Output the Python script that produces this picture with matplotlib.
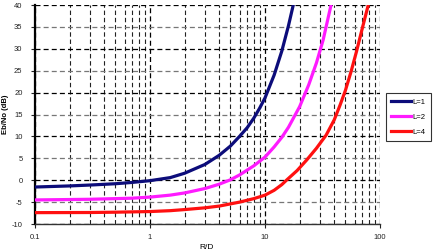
import matplotlib.pyplot as plt
from matplotlib.ticker import MultipleLocator, LogLocator, NullFormatter, FuncFormatter

plt.rcParams['font.family'] = ['Liberation Sans', 'DejaVu Sans']

# values
d_l1 = [0.1, 0.2, 0.3, 0.5, 0.7, 1, 1.5, 2, 3, 4, 5, 6, 7, 8, 9, 10, 12, 14,
        16, 17.6]
eb_l1 = [-1.55, -1.3, -1.1, -0.8, -0.5, -0.1, 0.6, 1.6, 3.6, 5.7, 7.8, 10.0,
         12.0, 14.2, 16.5, 18.8, 24.0, 29.5, 35.3, 40]

d_l2 = [0.1, 0.3, 0.5, 0.7, 1, 1.5, 2, 3, 4, 5, 6, 8, 10, 12, 14, 16, 20, 24,
        28, 32, 37.5]
eb_l2 = [-4.5, -4.35, -4.2, -4.1, -3.85, -3.4, -2.9, -1.9, -0.9, 0.1, 1.2,
         3.3, 5.3, 7.6, 9.8, 12.1, 16.8, 21.8, 26.8, 32.0, 40]

d_l4 = [0.1, 0.3, 0.5, 1, 1.5, 2, 3, 4, 6, 8, 10, 12, 14, 15.5, 19, 23, 28,
        34, 40, 45, 50, 56, 62.6, 70, 79]
eb_l4 = [-7.4, -7.37, -7.3, -7.15, -6.95, -6.7, -6.3, -5.9, -5.0, -4.2, -3.4,
         -2.3, -1.0, 0.1, 2.2, 4.6, 7.3, 10.3, 13.8, 17.2, 20.5, 24.8, 29.5,
         34.6, 40]

labels = ['L=1', 'L=2', 'L=4']
colors = ['#0c0c7a', '#ff1aff', '#ff1010']

fig = plt.figure(figsize=(4.35, 2.52), dpi=100)
ax = fig.add_axes([0.0805, 0.111, 0.7931, 0.869])

ax.plot(d_l1, eb_l1, color=colors[0], lw=2.3, label=labels[0], zorder=3)
ax.plot(d_l2, eb_l2, color=colors[1], lw=2.3, label=labels[1], zorder=3)
ax.plot(d_l4, eb_l4, color=colors[2], lw=2.3, label=labels[2], zorder=3)

ax.set_xscale('log')
ax.set_xlim(0.1, 100)
ax.set_ylim(-10, 40)

ax.xaxis.set_major_locator(LogLocator(base=10))
ax.xaxis.set_minor_locator(LogLocator(base=10, subs=range(2, 10)))
ax.xaxis.set_minor_formatter(NullFormatter())
ax.xaxis.set_major_formatter(FuncFormatter(lambda v, p: '%g' % v))

ax.yaxis.set_major_locator(MultipleLocator(10))
ax.yaxis.set_minor_locator(MultipleLocator(5))
ax.yaxis.set_minor_formatter(FuncFormatter(lambda v, p: '%d' % v))
ax.yaxis.set_major_formatter(FuncFormatter(lambda v, p: '%d' % v))

dash = (0, (4, 2.5))
ax.grid(which='major', axis='y', color='black', ls=dash, lw=0.9)
ax.grid(which='minor', axis='y', color='#777777', ls=dash, lw=0.9)
ax.grid(which='major', axis='x', color='black', ls=dash, lw=0.9)
ax.grid(which='minor', axis='x', color='#222222', ls=dash, lw=0.8)
ax.set_axisbelow(True)

for s in ['top', 'right']:
    ax.spines[s].set_visible(False)
ax.spines['left'].set_linewidth(1.6)
ax.spines['bottom'].set_linewidth(1.0)
ax.spines['bottom'].set_color('#333333')

ax.tick_params(axis='both', which='both', labelsize=5.5, colors='#222222')
ax.tick_params(axis='y', which='both', length=3, width=0.8, direction='out', pad=6)
ax.tick_params(axis='x', which='major', length=3, width=0.8, direction='out', pad=4)
ax.tick_params(axis='x', which='minor', length=2, width=0.6, direction='in')

ax.set_ylabel('Eb/No (dB)', fontsize=5.5, fontweight='bold', labelpad=2)
fig.text(0.476, 1 - 251 / 252, 'R/D', fontsize=6, ha='center', va='bottom')

leg = ax.legend(loc='upper left', bbox_to_anchor=(1.017, 0.598), fontsize=5.5,
                frameon=True, fancybox=False, edgecolor='black', handlelength=2.6,
                labelspacing=1.0, handletextpad=0.2, borderpad=0.7, borderaxespad=0)
leg.get_frame().set_linewidth(0.8)

fig.savefig('out.png', dpi=100)
